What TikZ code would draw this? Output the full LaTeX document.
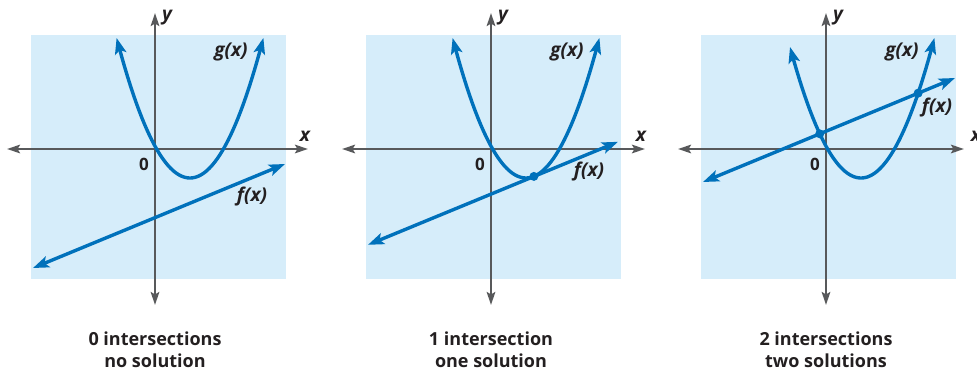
\documentclass[tikz,border=0pt]{standalone}
\usepackage{fontspec}
\setmainfont{Open Sans}
\usetikzlibrary{arrows.meta}
\definecolor{bgblue}{HTML}{D6EDFA}
\definecolor{curveblue}{HTML}{0071BB}
\definecolor{axisgray}{HTML}{58595B}
\definecolor{txtgray}{HTML}{231F20}
\tikzset{
  axisline/.style={draw=axisgray, line width=2.4pt, {Stealth[length=13pt,width=8.5pt,inset=2.5pt]}-{Stealth[length=13pt,width=8.5pt,inset=2.5pt]}},
  curveline/.style={draw=curveblue, line width=3.4pt, {Stealth[length=16pt,width=11.5pt,inset=3.5pt]}-{Stealth[length=16pt,width=11.5pt,inset=3.5pt]}},
  bgrect/.style={fill=bgblue},
  dotmark/.style={fill=curveblue},
  fnlabel/.style={text=txtgray, font=\fontsize{19}{22}\selectfont\bfseries\itshape, inner sep=0pt},
  axlabel/.style={text=txtgray, font=\fontsize{19}{22}\selectfont\bfseries\itshape, inner sep=0pt},
  zerolabel/.style={text=txtgray, font=\fontsize{17}{20}\selectfont\bfseries, inner sep=0pt},
  caption/.style={text=txtgray, font=\fontsize{18}{22}\selectfont\bfseries, inner sep=0pt, anchor=base}
}
\begin{document}
\begin{tikzpicture}[x=1pt,y=-1pt]
\useasboundingbox (0,0) rectangle (977,372);

% ---------- Panel 1 ----------
\begin{scope}[shift={(155,149)}]
  \fill[bgrect] (-124,-114) rectangle (131,130);
  \coordinate (a1l) at (-148,0); \coordinate (a1r) at (153,0);
  \coordinate (a1b) at (0,156);  \coordinate (a1t) at (0,-136);
  \draw[axisline] (a1l) -- (a1r);
  \draw[axisline] (a1b) -- (a1t);
  \draw[curveline] plot[domain=-38.4:108.4, samples=80, smooth] (\x,{29-0.026*(\x-35)^2});
  \coordinate (f1a) at (-122,119); \coordinate (f1b) at (130,15);
  \draw[curveline] (f1a) -- (f1b);
  \node[fnlabel] (g1) at (76,-97) {g(x)};
  \node[fnlabel] (fl1) at (97,48) {f(x)};
  \node[axlabel] (x1) at (150,-13) {x};
  \node[axlabel] (y1) at (12,-131) {y};
  \node[zerolabel] (o1) at (-11,15) {0};
\end{scope}
\node[caption] (c1a) at (155,345) {0 intersections};
\node[caption] (c1b) at (155,367) {no solution};

% ---------- Panel 2 ----------
\begin{scope}[shift={(491,149)}]
  \fill[bgrect] (-125,-114) rectangle (130,130);
  \coordinate (a2l) at (-149,0); \coordinate (a2r) at (154,0);
  \coordinate (a2b) at (0,156);  \coordinate (a2t) at (0,-136);
  \draw[axisline] (a2l) -- (a2r);
  \draw[axisline] (a2b) -- (a2t);
  \draw[curveline] plot[domain=-38.4:108.4, samples=80, smooth] (\x,{29-0.026*(\x-35)^2});
  \coordinate (f2a) at (-123,95.8); \coordinate (f2b) at (127,-7.2);
  \draw[curveline] (f2a) -- (f2b);
  \coordinate (t2) at (42.9,27.4);
  \fill[dotmark] (t2) circle (4.5pt);
  \node[fnlabel] (g2) at (76,-97) {g(x)};
  \node[fnlabel] (fl2) at (98,23) {f(x)};
  \node[axlabel] (x2) at (150,-13) {x};
  \node[axlabel] (y2) at (12,-131) {y};
  \node[zerolabel] (o2) at (-11,15) {0};
\end{scope}
\node[caption] (c2a) at (491,345) {1 intersection};
\node[caption] (c2b) at (491,367) {one solution};

% ---------- Panel 3 ----------
\begin{scope}[shift={(826,149)}]
  \fill[bgrect] (-125,-114) rectangle (130,130);
  \coordinate (a3l) at (-148,0); \coordinate (a3r) at (138,0);
  \coordinate (a3b) at (0,156);  \coordinate (a3t) at (0,-136);
  \draw[axisline] (a3l) -- (a3r);
  \draw[axisline] (a3b) -- (a3t);
  \draw[curveline] plot[domain=-36:108.4, samples=80, smooth] (\x,{29-0.026*(\x-35)^2});
  \coordinate (f3a) at (-123,33); \coordinate (f3b) at (129,-71);
  \draw[curveline] (f3a) -- (f3b);
  \coordinate (s3a) at (-6.24,-15.2);
  \coordinate (s3b) at (92.13,-55.85);
  \fill[dotmark] (s3a) circle (4.5pt);
  \fill[dotmark] (s3b) circle (4.5pt);
  \node[fnlabel] (g3) at (76,-97) {g(x)};
  \node[fnlabel] (fl3) at (111,-41) {f(x)};
  \node[axlabel] (x3) at (150,-13) {x};
  \node[axlabel] (y3) at (12,-131) {y};
  \node[zerolabel] (o3) at (-11,15) {0};
\end{scope}
\node[caption] (c3a) at (826,345) {2 intersections};
\node[caption] (c3b) at (826,367) {two solutions};
\end{tikzpicture}
\end{document}
